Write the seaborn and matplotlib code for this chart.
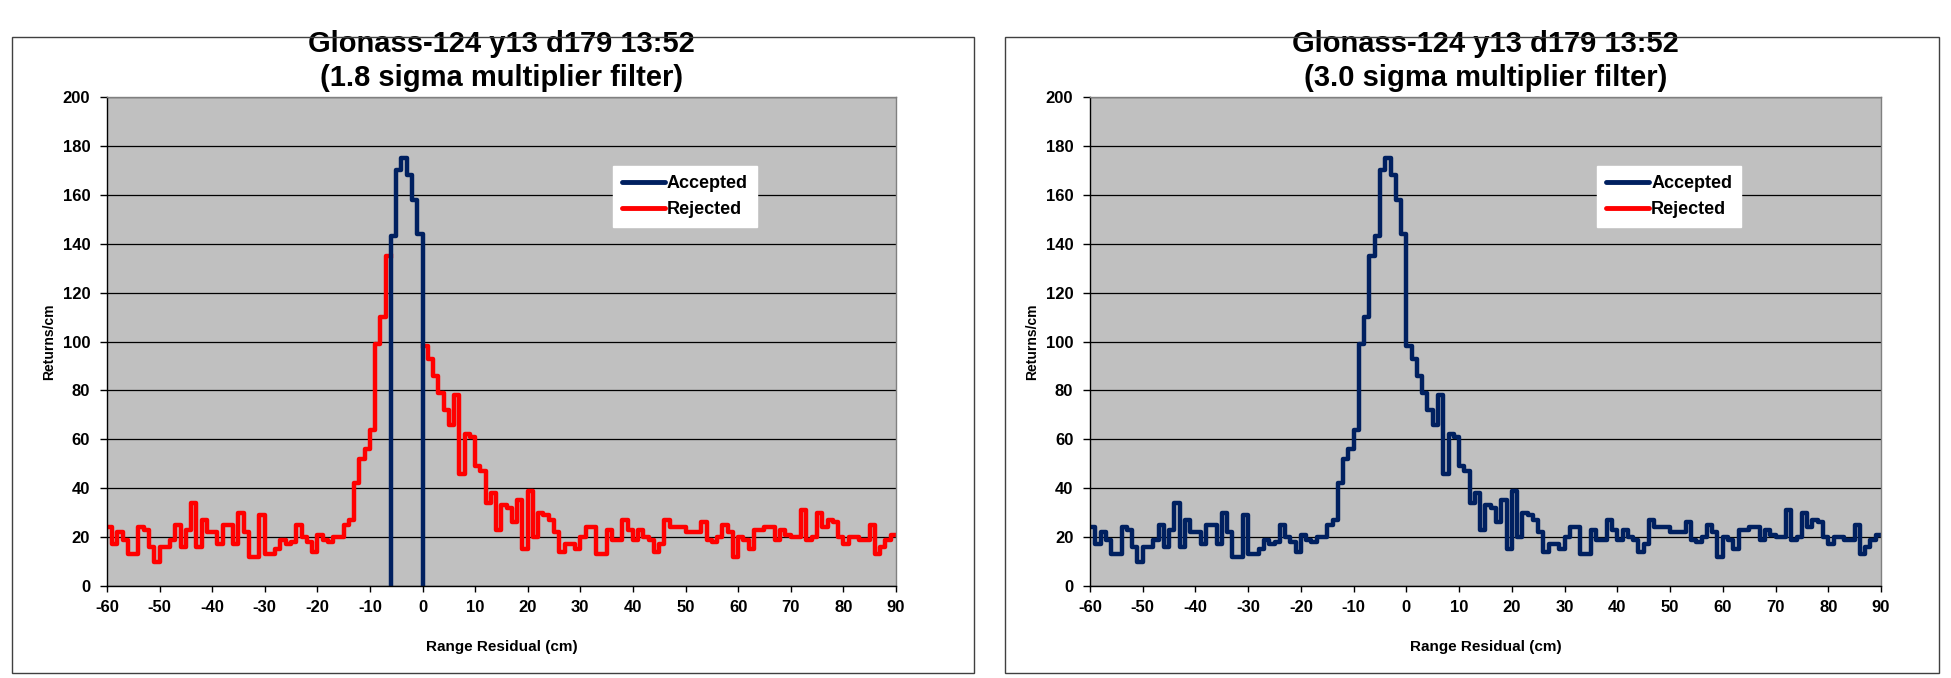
import numpy as np
import pandas as pd
import matplotlib
matplotlib.use('Agg')
import matplotlib.pyplot as plt
import seaborn as sns
from matplotlib.lines import Line2D
from matplotlib.patches import Rectangle

# histogram of range residuals, 1 cm bins, left edges -60 .. 89
bin_left = list(range(-60, 90))
counts = [
    24, 17, 22, 19, 13, 13, 24, 23, 16, 10,   # -60 .. -51
    16, 16, 19, 25, 16, 23, 34, 16, 27, 22,   # -50 .. -41
    22, 17, 25, 25, 17, 30, 22, 12, 12, 29,   # -40 .. -31
    13, 13, 15, 19, 17, 18, 25, 20, 18, 14,   # -30 .. -21
    21, 19, 18, 20, 20, 25, 27, 42, 52, 56,   # -20 .. -11
    64, 99, 110, 135, 143, 170, 175, 168, 158, 144,  # -10 .. -1
    98, 93, 86, 79, 72, 66, 78, 46, 62, 61,   # 0 .. 9
    49, 47, 34, 38, 23, 33, 32, 26, 35, 15,   # 10 .. 19
    39, 20, 30, 29, 27, 22, 14, 17, 17, 15,   # 20 .. 29
    20, 24, 24, 13, 13, 23, 19, 19, 27, 23,   # 30 .. 39
    19, 23, 20, 19, 14, 17, 27, 24, 24, 24,   # 40 .. 49
    22, 22, 22, 26, 19, 18, 20, 25, 22, 12,   # 50 .. 59
    20, 19, 15, 23, 23, 24, 24, 19, 23, 21,   # 60 .. 69
    20, 20, 31, 19, 20, 30, 24, 27, 26, 20,   # 70 .. 79
    17, 20, 20, 19, 19, 25, 13, 16, 19, 21,   # 80 .. 89
]
# accepted window for the 1.8 sigma filter (cm)
accept_lo, accept_hi = -6, 0

titles = ["Glonass-124 y13 d179 13:52\n(1.8 sigma multiplier filter)",
          "Glonass-124 y13 d179 13:52\n(3.0 sigma multiplier filter)"]

NAVY = "#002060"
RED = "#FF0000"

plt.rcParams['font.family'] = ['Liberation Sans', 'DejaVu Sans']
plt.rcParams['font.weight'] = 'bold'
plt.rcParams['axes.unicode_minus'] = False

edges = np.array(bin_left + [bin_left[-1] + 1])
vals = np.array(counts + [counts[-1]], dtype=float)

# full series (3.0 sigma: everything accepted)
df_all = pd.DataFrame({"x": edges, "y": vals, "seg": 0})

# 1.8 sigma: rejected = outside the window, split in two runs
inside = (edges >= accept_lo) & (edges < accept_hi)
left_run = edges < accept_lo
right_run = edges >= accept_hi
df_rej = pd.concat([
    pd.DataFrame({"x": edges[left_run], "y": vals[left_run], "seg": 0}),
    pd.DataFrame({"x": edges[right_run], "y": vals[right_run], "seg": 1}),
], ignore_index=True)
# close the left run at the window edge
last_left = df_rej[df_rej.seg == 0].iloc[-1]
df_rej = pd.concat([df_rej, pd.DataFrame({"x": [accept_lo], "y": [last_left.y], "seg": [0]})],
                   ignore_index=True).sort_values(["seg", "x"])

acc_x = np.concatenate([[accept_lo], edges[inside], [accept_hi, accept_hi]])
acc_y = np.concatenate([[0], vals[inside], [vals[inside][-1], 0]])
df_acc = pd.DataFrame({"x": acc_x, "y": acc_y, "seg": 0})

fig = plt.figure(figsize=(19.51, 6.78), dpi=100)

# panel frames
for x0, w in [(0.0062, 0.4931), (0.5151, 0.4787)]:
    fig.patches.append(Rectangle((x0, 0.0074), w, 0.938, transform=fig.transFigure,
                                 fill=False, edgecolor='#404040', lw=1.0))

ax1 = fig.add_axes([0.0548, 0.1357, 0.4044, 0.7212])
ax2 = fig.add_axes([0.5587, 0.1357, 0.4054, 0.7212])

sns.lineplot(data=df_rej, x="x", y="y", units="seg", estimator=None, sort=False,
             color=RED, lw=3.2, drawstyle='steps-post', ax=ax1)
sns.lineplot(data=df_acc, x="x", y="y", units="seg", estimator=None, sort=False,
             color=NAVY, lw=3.2, drawstyle='steps-post', ax=ax1)
sns.lineplot(data=df_all, x="x", y="y", units="seg", estimator=None, sort=False,
             color=NAVY, lw=3.2, drawstyle='steps-post', ax=ax2)

handles = [Line2D([0], [0], color=NAVY, lw=3.5, solid_capstyle='round', label='Accepted'),
           Line2D([0], [0], color=RED, lw=3.5, solid_capstyle='round', label='Rejected')]

for ax, title in zip([ax1, ax2], titles):
    ax.set_facecolor('#C0C0C0')
    ax.set_xlim(-60, 90)
    ax.set_ylim(0, 200)
    ax.set_xticks(np.arange(-60, 91, 10))
    ax.set_yticks(np.arange(0, 201, 20))
    ax.yaxis.grid(True, color='black', lw=0.9)
    ax.set_axisbelow(True)
    for s in ['left', 'bottom']:
        ax.spines[s].set_color('black')
        ax.spines[s].set_linewidth(1.0)
    for s in ['top', 'right']:
        ax.spines[s].set_color('#808080')
        ax.spines[s].set_linewidth(1.0)
    ax.tick_params(axis='x', direction='out', length=4, width=1, labelsize=12, pad=6)
    ax.tick_params(axis='y', direction='out', length=5, width=1, labelsize=12, pad=7)
    for lab in ax.get_xticklabels() + ax.get_yticklabels():
        lab.set_fontweight('bold')
    ax.set_xlabel('Range Residual (cm)', fontsize=11, fontweight='bold', labelpad=18)
    ax.set_ylabel('Returns/cm', fontsize=10, fontweight='bold', labelpad=5)
    ax.set_title(title, fontsize=21, fontweight='bold', pad=8, linespacing=1.25)
    leg = ax.legend(handles=handles, loc='upper left', bbox_to_anchor=(0.641, 0.859),
                    borderaxespad=0, fontsize=13, frameon=True, fancybox=False,
                    handlelength=2.4, handletextpad=0.1, labelspacing=0.5, borderpad=0.5)
    leg.get_frame().set_facecolor('white')
    leg.get_frame().set_edgecolor('white')
    leg.get_frame().set_alpha(1)
    for t in leg.get_texts():
        t.set_fontweight('bold')

fig.savefig('out.png', dpi=100)
